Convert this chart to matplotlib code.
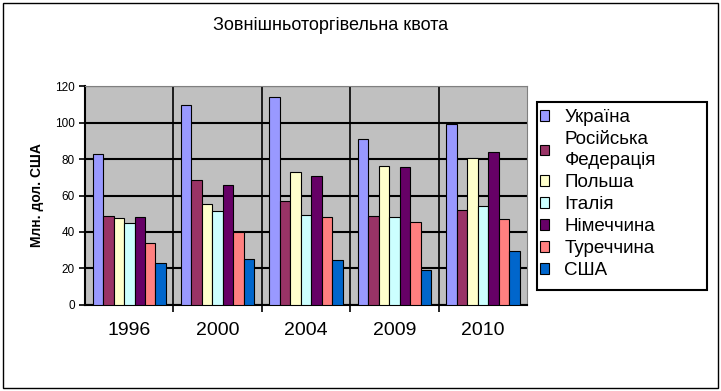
import numpy as np
import matplotlib
matplotlib.use("Agg")
from matplotlib import pyplot as plt
from matplotlib.patches import Rectangle

plt.rcParams['font.family'] = ['Liberation Sans', 'DejaVu Sans']

years = ['1996', '2000', '2004', '2009', '2010']
countries = ['Україна', 'Російська\nФедерація', 'Польша', 'Італія', 'Німеччина', 'Туреччина', 'США']
colors = ['#9999FF', '#993366', '#FFFFCC', '#CCFFFF', '#660066', '#FF8080', '#0066CC']

ukraine = [82.5, 109.5, 114, 91, 99]
russia = [49, 68.5, 57, 49, 52]
poland = [47.5, 55.5, 73, 76, 80.5]
italy = [45, 51.5, 49.5, 48, 54]
germany = [48, 66, 70.5, 75.5, 84]
turkey = [34, 40, 48, 45.5, 47]
usa = [23, 25, 24.5, 19, 29.5]
series = [ukraine, russia, poland, italy, germany, turkey, usa]

W, H = 721, 391
fig = plt.figure(figsize=(7.21, 3.91), dpi=100)
ax = fig.add_axes([0.118, 0.220, 0.613, 0.560])
ax.set_facecolor('#C0C0C0')

x = np.arange(len(years))
w = 0.83 / len(series)
for i, vals in enumerate(series):
    ax.bar(x - 0.415 + w * (i + 0.5), vals, width=w, color=colors[i],
           edgecolor='black', linewidth=0.8, label=countries[i], zorder=3)

ax.set_xlim(-0.5, len(years) - 0.5)
ax.set_ylim(0, 120)
ax.set_yticks(range(0, 121, 20))
ax.tick_params(axis='y', labelsize=8.5, length=4, width=1.2)
ax.set_xticks(x)
ax.set_xticklabels(years, fontsize=14)
ax.tick_params(axis='x', length=0, pad=12)
ax.set_xticks(np.arange(0.5, len(years) - 0.5), minor=True)
ax.tick_params(axis='x', which='minor', length=5, width=1.2)
ax.yaxis.grid(True, color='black', linewidth=1.5, zorder=0)
ax.xaxis.grid(True, which='minor', color='black', linewidth=1.2, zorder=0)
ax.set_axisbelow(True)
for s in ['top', 'right']:
    ax.spines[s].set_color('#808080')
for s in ['left', 'bottom']:
    ax.spines[s].set_linewidth(1.5)

ax.set_ylabel('Млн. дол. США', fontsize=10, fontweight='bold', labelpad=8)
fig.text(0.458, 0.935, 'Зовнішньоторгівельна квота', ha='center', va='center', fontsize=13)

leg = ax.legend(loc='upper left', bbox_to_anchor=(540 / W, 1 - 109 / H), bbox_transform=fig.transFigure,
                fontsize=13.5, frameon=False, handlelength=0.5, handleheight=0.5,
                handletextpad=0.8, labelspacing=0.27, borderpad=0.0, borderaxespad=0)
leg.get_texts()[1].set_linespacing(1.3)

# legend box (wider than the text, like the original)
fig.patches.append(Rectangle((537 / W, 1 - 290 / H), 170 / W, 188 / H, transform=fig.transFigure,
                             fill=False, edgecolor='black', linewidth=1.5))

fig.patches.append(Rectangle((0.004, 0.008), 0.992, 0.985, transform=fig.transFigure,
                             fill=False, edgecolor='black', linewidth=1))

fig.savefig('out.png', dpi=100)
